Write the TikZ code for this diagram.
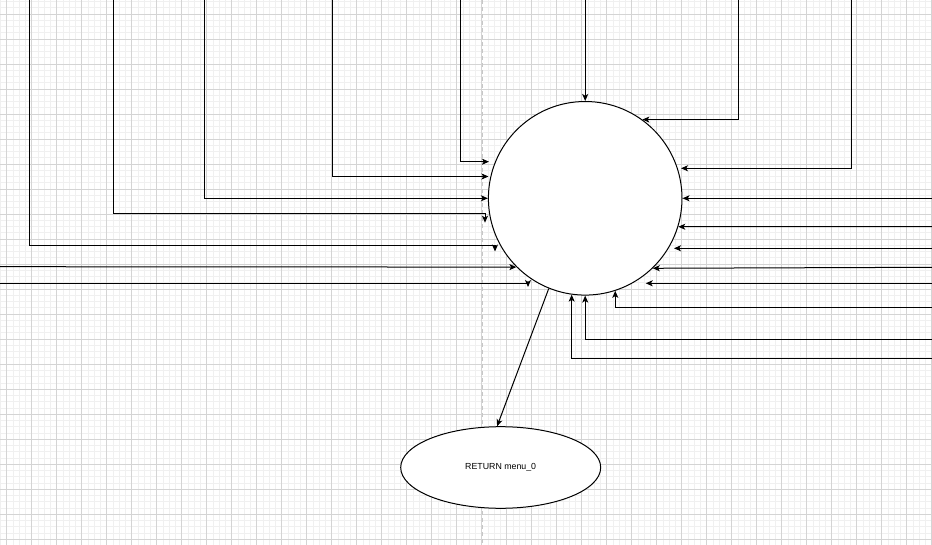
\documentclass[tikz,border=0pt]{standalone}
\usepackage{fontspec}
\setmainfont{Liberation Sans}
\usetikzlibrary{arrows.meta,shapes.geometric}
\tikzset{
  minorgrid/.style={draw=black!6, line width=0.5pt},
  majorgrid/.style={draw=black!17, line width=0.6pt},
  pageline/.style={draw=black!22, line width=0.8pt, dash pattern=on 4pt off 3pt},
  conn/.style={draw=black, line width=1pt, -{Stealth[length=7pt,width=6pt,inset=1.8pt]}},
  bubble/.style={circle, draw=black, line width=1pt, fill=white, minimum size=193.6pt, inner sep=0pt},
  oval/.style={ellipse, draw=black, line width=1pt, fill=white, minimum width=200pt, minimum height=81.6pt, inner sep=0pt, font=\fontsize{8.8}{10}\selectfont}
}
\begin{document}
\begin{tikzpicture}[x=1pt,y=-1pt]
\useasboundingbox (0,0) rectangle (932,545);
\fill[white] (0,0) rectangle (932,545);
% grid
\foreach \i in {0,...,149} {\draw[minorgrid] ({0.45+6.25*\i},0) -- ({0.45+6.25*\i},545);}
\foreach \j in {0,...,87} {\draw[minorgrid] (0,{1.5+6.25*\j}) -- (932,{1.5+6.25*\j});}
\foreach \i in {0,...,37} {\draw[majorgrid] ({6.7+25*\i},0) -- ({6.7+25*\i},545);}
\foreach \j in {0,...,21} {\draw[majorgrid] (0,{14+25*\j}) -- (932,{14+25*\j});}
\draw[pageline] (482.5,0) -- (482.5,545);

% nodes
\node[bubble] (c) at (585.2,198.3) {};
\node[oval] (e) at (500.7,467.5) {RETURN menu\_0};

% free ends
\coordinate (sL1) at (460.7,0);
\coordinate (tL1) at (489,161.7);
\coordinate (sL2) at (332.3,0);
\coordinate (tL2) at (488.5,176.5);
\coordinate (sL3) at (204,0);
\coordinate (sL4) at (113.3,0);
\coordinate (kL4) at (485,214);
\coordinate (tL4) at (485,222.7);
\coordinate (sL5) at (29.3,0);
\coordinate (kL5) at (495,246);
\coordinate (tL5) at (495,251.5);
\coordinate (sL6) at (0,266.7);
\coordinate (sL7) at (0,283.3);
\coordinate (tL7) at (528,287);
\coordinate (sT) at (585.2,0);
\coordinate (sR1) at (738.3,0);
\coordinate (sR2) at (851,0);
\coordinate (tR2) at (681,168.3);
\coordinate (sR3) at (932,198.3);
\coordinate (sR4) at (932,226.7);
\coordinate (sR5) at (932,248.3);
\coordinate (tR5) at (674,248.3);
\coordinate (sR6) at (932,267.3);
\coordinate (sR7) at (932,283.3);
\coordinate (tR7) at (645.7,283.3);
\coordinate (sB1) at (932,307.3);
\coordinate (sB2) at (932,339.3);
\coordinate (sB3) at (932,358.3);

% connectors from the left and top
\draw[conn] (sL1) |- (tL1);
\draw[conn] (sL2) |- (tL2);
\draw[conn] (sL3) |- (c.west);
\draw[conn] (sL4) |- (kL4) -- (tL4);
\draw[conn] (sL5) |- (kL5) -- (tL5);
\draw[conn] (sL6) -- (c.225.2);
\draw[conn] (sL7) -| (tL7);
\draw[conn] (sT) -- (c.north);
% connectors from the right
\draw[conn] (sR1) |- (c.54.2);
\draw[conn] (sR2) |- (tR2);
\draw[conn] (sR3) -- (c.east);
\draw[conn] (sR4) -- (c.343);
\draw[conn] (sR5) -- (tR5);
\draw[conn] (sR6) -- (c.314.6);
\draw[conn] (sR7) -- (tR7);
\draw[conn] (sB1) -| (c.288.8);
\draw[conn] (sB2) -| (c.south);
\draw[conn] (sB3) -| (c.262);
% to the return oval
\draw[conn] (c.248.6) -- (e.95.6);
\end{tikzpicture}
\end{document}
